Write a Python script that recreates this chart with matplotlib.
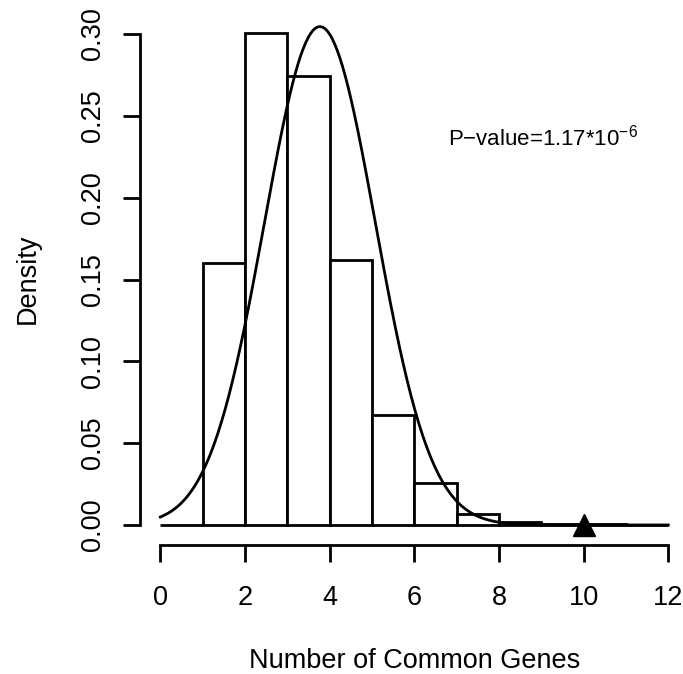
import numpy as np
import matplotlib
matplotlib.use('Agg')
import matplotlib.pyplot as plt

# ===================== 数据 =====================
bin_edges = [0, 1, 2, 3, 4, 5, 6, 7, 8, 9, 10, 11, 12]
densities = [0.0, 0.1602, 0.3004, 0.2745, 0.1619, 0.0672, 0.0258, 0.0067, 0.0018, 0.0008, 0.0006, 0.0001]
fit_mean = 3.77   # 正态拟合参数
fit_sd = 1.31
observed = 10     # 实际观测值（三角形标记）
p_text = 'P\u2212value=1.17*10$^{\u22126}$'
x_ticks = [0, 2, 4, 6, 8, 10, 12]
y_ticks = [0.00, 0.05, 0.10, 0.15, 0.20, 0.25, 0.30]

plt.rcParams['font.family'] = ['Liberation Sans', 'DejaVu Sans']
plt.rcParams['mathtext.fontset'] = 'custom'
plt.rcParams['mathtext.rm'] = 'Liberation Sans'
plt.rcParams['mathtext.it'] = 'Liberation Sans:italic'

W, H = 683, 674
fig = plt.figure(figsize=(W / 100, H / 100), dpi=100)
# R 风格：坐标范围外扩 4%
left, right = 140, 688.6
top, bottom = 14.4, 544.6
ax = fig.add_axes([left / W, 1 - bottom / H, (right - left) / W, (bottom - top) / H])
ax.set_xlim(-0.48, 12.48)
ax.set_ylim(-0.012, 0.312)

lw = 2.0
ax.bar(bin_edges[:-1], densities, width=1, align='edge', facecolor='white',
       edgecolor='black', linewidth=lw, zorder=2)

xs = np.linspace(0, 12, 400)
ys = np.exp(-(xs - fit_mean) ** 2 / (2 * fit_sd ** 2)) / (fit_sd * np.sqrt(2 * np.pi))
ax.plot(xs, ys, color='black', linewidth=lw, zorder=3)

ax.plot([observed], [0], marker='^', markersize=15.5, color='black', zorder=4, clip_on=False)

ax.text(6.79, 0.232, p_text, fontsize=16, ha='left', va='baseline')

for s in ['top', 'right']:
    ax.spines[s].set_visible(False)
ax.spines['left'].set_bounds(0, 0.30)
ax.spines['bottom'].set_bounds(0, 12)
ax.spines['left'].set_linewidth(lw)
ax.spines['bottom'].set_linewidth(lw)

ax.set_xticks(x_ticks)
ax.set_xticklabels([str(t) for t in x_ticks])
ax.set_yticks(y_ticks)
ax.set_yticklabels([f'{t:.2f}' for t in y_ticks], rotation=90, va='center')
ax.tick_params(direction='out', length=12, width=lw, labelsize=19.5)
ax.tick_params(axis='x', pad=17)
ax.tick_params(axis='y', pad=12.5)

# 坐标轴标题（按像素位置放置）
fig.text(414.5 / W, 1 - 668 / H, 'Number of Common Genes', fontsize=19.5,
         ha='center', va='baseline')
fig.text(35 / W, 1 - 279 / H, 'Density', fontsize=19.5, rotation=90,
         rotation_mode='anchor', ha='center', va='baseline')

fig.savefig('out.png', dpi=100)
